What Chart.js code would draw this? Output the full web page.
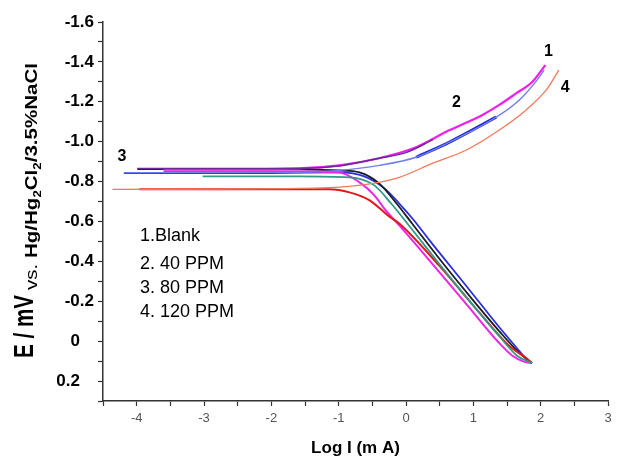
<!DOCTYPE html>
<html>
<head>
<meta charset="utf-8">
<script src="https://cdn.jsdelivr.net/npm/chart.js@4.4.0/dist/chart.umd.min.js"></script>
<style>
  html, body { margin: 0; padding: 0; background: #ffffff; }
  #c { display: block; }
</style>
</head>
<body>
<canvas id="c" width="621" height="463"></canvas>
<script>
// ---------------- DATA ----------------
// Axis ticks
const xTickValues = [-4.5, -4, -3.5, -3, -2.5, -2, -1.5, -1, -0.5, 0, 0.5, 1, 1.5, 2, 2.5, 3];
const xTickLabels = ['', '-4', '', '-3', '', '-2', '', '-1', '', '0', '', '1', '', '2', '', '3'];
const yTickValues = [-1.6, -1.5, -1.4, -1.3, -1.2, -1.1, -1.0, -0.9, -0.8, -0.7, -0.6, -0.5, -0.4, -0.3, -0.2, -0.1, 0, 0.1, 0.2, 0.3];
const yTickLabels = ['-1.6', '', '-1.4', '', '-1.2', '', '-1.0', '', '-0.8', '', '-0.6', '', '-0.4', '', '-0.2', '', '0', '', '0.2', ''];

// Curve 1 (Blank, magenta)
const c1UpperLogI = [-3.6, -2.3, -1.58, -0.99, -0.40, 0.15, 0.64, 1.13, 1.38, 1.64, 1.87, 2.07];
const c1UpperE    = [-0.862, -0.862, -0.866, -0.881, -0.917, -0.972, -1.057, -1.133, -1.183, -1.243, -1.298, -1.384];
const c1LowerLogI = [-3.6, -2.0, -0.99, -0.69, -0.47, -0.30, -0.10, 0.35, 0.94, 1.38, 1.58, 1.76, 1.87];
const c1LowerE    = [-0.852, -0.852, -0.846, -0.796, -0.731, -0.655, -0.580, -0.404, -0.168, 0.008, 0.073, 0.104, 0.109];

// Curve 2 (40 PPM, blue)
const c2UpperLogI = [-4.19, -1.58, -0.99, -0.40, 0.15, 0.64, 1.34, 1.68, 1.98, 2.05];
const c2UpperE    = [-0.845, -0.846, -0.856, -0.881, -0.922, -0.997, -1.123, -1.208, -1.324, -1.359];
const c2MarkedLogI = [0.15, 0.64, 1.34];
const c2MarkedE    = [-0.922, -0.997, -1.123];
const c2LowerLogI = [-4.19, -2.0, -0.99, -0.62, -0.32, -0.10, 0.12, 0.35, 0.94, 1.38, 1.68, 1.80, 1.87];
const c2LowerE    = [-0.843, -0.843, -0.846, -0.826, -0.766, -0.690, -0.605, -0.505, -0.258, -0.072, 0.048, 0.093, 0.109];

// Curve 3 (80 PPM, black / purple / teal traces)
const c3UpperLogI = [-3.99, -1.58, -0.99, -0.40, 0.0, 0.4];
const c3UpperE    = [-0.866, -0.866, -0.878, -0.917, -0.945, -1.010];
const c3LowerLogI = [-3.99, -1.58, -0.99, -0.69, -0.40, -0.14, 0.09, 0.54, 0.94, 1.38, 1.68, 1.87];
const c3LowerE    = [-0.863, -0.861, -0.856, -0.846, -0.791, -0.690, -0.590, -0.394, -0.228, -0.052, 0.058, 0.109];
const c3bLowerLogI = [-3.02, -1.58, -0.84, -0.47, -0.22, 0.02, 0.49, 0.94, 1.38, 1.65, 1.87];
const c3bLowerE    = [-0.826, -0.826, -0.821, -0.781, -0.690, -0.590, -0.389, -0.203, -0.027, 0.073, 0.109];

// Curve 4 (120 PPM, red)
const c4UpperLogI = [-4.36, -1.58, -0.84, -0.40, -0.10, 0.39, 0.89, 1.38, 1.78, 2.08, 2.27];
const c4UpperE    = [-0.761, -0.766, -0.776, -0.796, -0.821, -0.891, -0.957, -1.057, -1.158, -1.258, -1.359];
const c4LowerLogI = [-3.96, -1.14, -0.84, -0.54, -0.25, -0.10, 0.49, 1.09, 1.53, 1.78, 1.87];
const c4LowerE    = [-0.761, -0.761, -0.746, -0.706, -0.625, -0.590, -0.380, -0.143, 0.023, 0.083, 0.109];

// Text
const curveNumbers = ['1', '2', '3', '4'];
const legendLines = ['1.Blank', '2. 40 PPM', '3. 80 PPM', '4. 120 PPM'];
const xTitle = 'Log I (m A)';

// ---------------- CHART ----------------
const pts = (xs, ys) => xs.map((x, i) => ({ x: x, y: ys[i] }));
function line(xs, ys, color, width) {
  return {
    data: pts(xs, ys), showLine: true, borderColor: color, backgroundColor: color,
    borderWidth: width, pointRadius: 0, cubicInterpolationMode: 'monotone', fill: false
  };
}

const datasets = [
  line(c4UpperLogI, c4UpperE, '#f07a5a', 1.3),
  line(c3UpperLogI, c3UpperE, '#6a2a9a', 1.5),
  line(c2UpperLogI, c2UpperE, '#6f7ef0', 1.4),
  line(c2MarkedLogI, c2MarkedE, '#1a22d8', 3),
  line(c1UpperLogI, c1UpperE, '#f01ee8', 2.2),
  line(c3bLowerLogI, c3bLowerE, '#2f9a86', 1.8),
  line(c4LowerLogI, c4LowerE, '#e01818', 2),
  line(c1LowerLogI, c1LowerE, '#f024e6', 2),
  line(c3LowerLogI, c3LowerE, '#1c1c24', 1.8),
  line(c2LowerLogI, c2LowerE, '#2a2ee0', 1.8),
];

function findLabel(values, labels, v) {
  for (let i = 0; i < values.length; i++) if (Math.abs(values[i] - v) < 1e-6) return labels[i];
  return '';
}

const textPlugin = {
  id: 'texts',
  afterDraw(chart) {
    const ctx = chart.ctx;
    const xs = chart.scales.x, ys = chart.scales.y;
    ctx.save();
    // curve number labels
    ctx.fillStyle = '#000';
    ctx.font = 'bold 16px "Liberation Sans", Arial, sans-serif';
    ctx.textAlign = 'center';
    ctx.textBaseline = 'middle';
    const numPos = [[2.115, -1.45], [0.75, -1.195], [-4.22, -0.925], [2.365, -1.27]];
    curveNumbers.forEach((t, i) => {
      ctx.fillText(t, xs.getPixelForValue(numPos[i][0]), ys.getPixelForValue(numPos[i][1]));
    });
    // legend text
    ctx.font = '18px "Liberation Sans", Arial, sans-serif';
    ctx.textAlign = 'left';
    const legY = [-0.527, -0.386, -0.265, -0.145];
    legendLines.forEach((t, i) => {
      ctx.fillText(t, xs.getPixelForValue(-3.95), ys.getPixelForValue(legY[i]));
    });
    // y-axis title (rotated, mixed fonts)
    ctx.save();
    ctx.translate(33, 358);
    ctx.rotate(-Math.PI / 2);
    ctx.textAlign = 'left';
    ctx.textBaseline = 'alphabetic';
    ctx.fillStyle = '#000';
    ctx.save();
    ctx.font = 'bold 27px "Liberation Sans", Arial, sans-serif';
    const w1 = ctx.measureText('E / mV').width;
    ctx.scale(63 / w1, 1);
    ctx.fillText('E / mV', 0, 0);
    ctx.restore();
    const parts = [
      ['vs. ', '17px "Liberation Sans", Arial, sans-serif', 0],
      ['Hg/Hg', 'bold 17px "Liberation Sans", Arial, sans-serif', 0],
      ['2', 'bold 11px "Liberation Sans", Arial, sans-serif', 4],
      ['Cl', 'bold 17px "Liberation Sans", Arial, sans-serif', 0],
      ['2', 'bold 11px "Liberation Sans", Arial, sans-serif', 4],
      ['/3.5%NaCl', 'bold 17px "Liberation Sans", Arial, sans-serif', 0]
    ];
    let total = 0;
    parts.forEach(p => { ctx.font = p[1]; total += ctx.measureText(p[0]).width; });
    const sx = 227 / total;
    ctx.translate(68, 4);
    ctx.scale(sx, 1);
    let u = 0;
    parts.forEach(p => {
      ctx.font = p[1];
      ctx.fillText(p[0], u, p[2]);
      u += ctx.measureText(p[0]).width;
    });
    ctx.restore();
    ctx.restore();
  }
};

new Chart(document.getElementById('c').getContext('2d'), {
  type: 'scatter',
  data: { datasets: datasets },
  options: {
    responsive: false,
    animation: false,
    events: [],
    layout: { padding: { left: 0, right: 13, top: 22, bottom: 0 } },
    plugins: { legend: { display: false }, tooltip: { enabled: false } },
    scales: {
      x: {
        type: 'linear', min: -4.5, max: 3,
        afterBuildTicks: s => { s.ticks = xTickValues.map(v => ({ value: v })); },
        afterFit: s => { s.height = 62; },
        ticks: {
          autoSkip: false, maxRotation: 0, padding: 5, color: '#555',
          font: { family: '"Liberation Sans", Arial, sans-serif', size: 13 },
          callback: v => findLabel(xTickValues, xTickLabels, v)
        },
        grid: { drawOnChartArea: false, drawTicks: true, tickLength: 5, tickColor: '#333', tickWidth: 1.2 },
        border: { display: true, color: '#333', width: 1.5 },
        title: {
          display: true, text: xTitle, color: '#000',
          font: { family: '"Liberation Sans", Arial, sans-serif', size: 17, weight: 'bold' },
          padding: { top: 0, bottom: 4 }
        }
      },
      y: {
        type: 'linear', reverse: true, min: -1.6, max: 0.3,
        afterBuildTicks: s => { s.ticks = yTickValues.map(v => ({ value: v })); },
        afterFit: s => { s.width = 103; },
        ticks: {
          autoSkip: false, padding: 4, color: '#000',
          font: { family: '"Liberation Sans", Arial, sans-serif', size: 17, weight: 'bold' },
          callback: v => {
            const l = findLabel(yTickValues, yTickLabels, v);
            return (l !== '' && v >= 0) ? l + '   ' : l;
          }
        },
        grid: { drawOnChartArea: false, drawTicks: true, tickLength: 5, tickColor: '#333', tickWidth: 1.2 },
        border: { display: true, color: '#333', width: 1.5 }
      }
    }
  },
  plugins: [textPlugin]
});
</script>
</body>
</html>
